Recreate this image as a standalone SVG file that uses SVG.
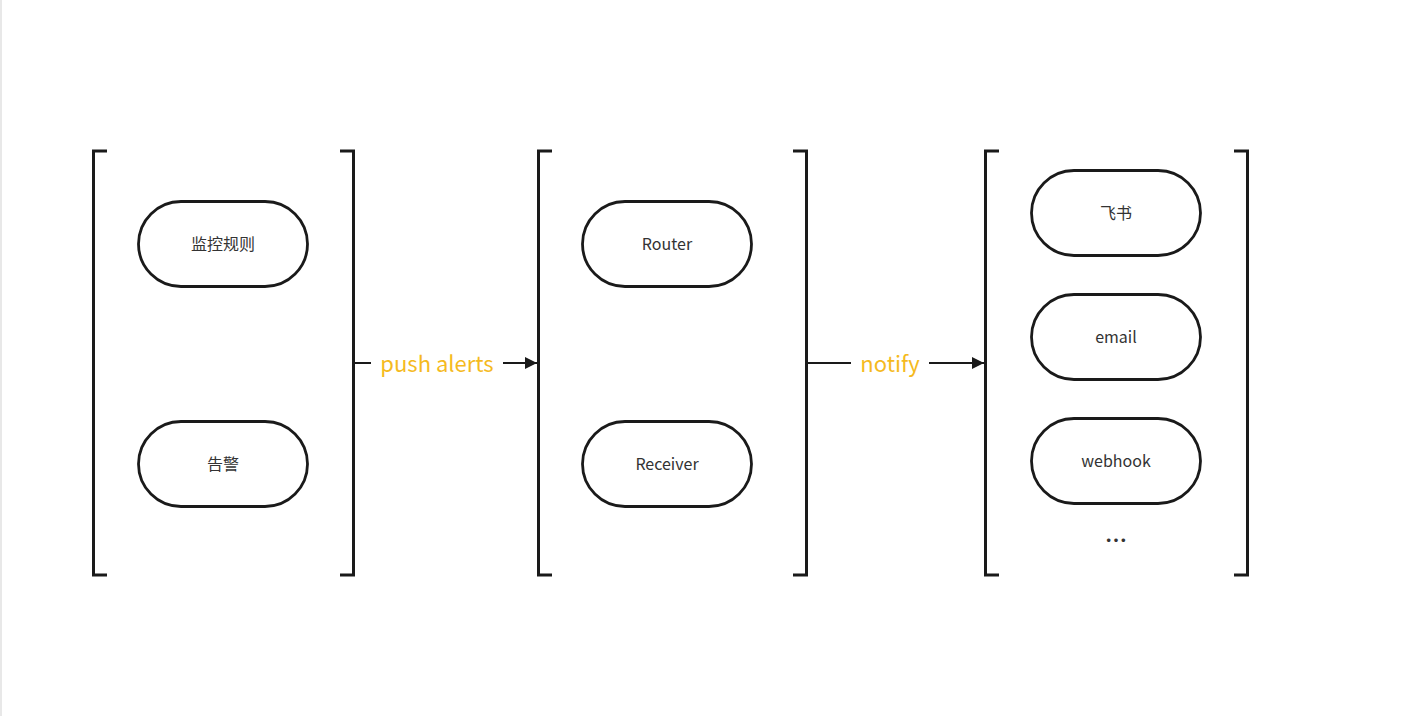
<svg xmlns="http://www.w3.org/2000/svg" width="1403" height="716" viewBox="0 0 1403 716">
<defs>
<style>
.br{fill:none;stroke:#1a1a1a;stroke-width:3;}
.pill{fill:#fff;stroke:#1a1a1a;stroke-width:2.8;}
.lbl{font-family:"Noto Sans CJK SC","Noto Sans",sans-serif;font-size:16px;fill:#333;text-anchor:middle;dominant-baseline:central;}
.dots{font-family:"Noto Sans CJK SC","Noto Sans",sans-serif;font-size:22px;font-weight:bold;fill:#333;text-anchor:middle;}
.cl{font-family:"Noto Sans CJK SC","Noto Sans",sans-serif;font-size:22px;fill:#F5BA1E;text-anchor:middle;dominant-baseline:central;}
.ln{stroke:#1a1a1a;stroke-width:2;fill:none;}
</style>
<marker id="ah" markerWidth="12" markerHeight="12" refX="12" refY="6" orient="auto" markerUnits="userSpaceOnUse">
<path d="M0,0 L12,6 L0,12 Z" fill="#1a1a1a"/>
</marker>
</defs>
<rect width="1403" height="716" fill="#fff"/>
<rect x="0" y="0" width="2" height="716" fill="#e8e8e8"/>
<g id="group1">
<path class="br" d="M107,151 H93.5 V575 H107"/>
<path class="br" d="M340,151 H353.5 V575 H340"/>
</g>
<g id="group2">
<path class="br" d="M552,151 H538.5 V575 H552"/>
<path class="br" d="M793,151 H806.5 V575 H793"/>
</g>
<g id="group3">
<path class="br" d="M999,151 H985.5 V575 H999"/>
<path class="br" d="M1234,151 H1247.5 V575 H1234"/>
</g>
<g id="n1"><rect class="pill" x="138.5" y="201.5" width="169" height="85" rx="42.5"/><text class="lbl" x="223" y="243">监控规则</text></g>
<g id="n2"><rect class="pill" x="138.5" y="421.5" width="169" height="85" rx="42.5"/><text class="lbl" x="223" y="463">告警</text></g>
<g id="n3"><rect class="pill" x="582.5" y="201.5" width="169" height="85" rx="42.5"/><text class="lbl" x="667" y="243">Router</text></g>
<g id="n4"><rect class="pill" x="582.5" y="421.5" width="169" height="85" rx="42.5"/><text class="lbl" x="667" y="463">Receiver</text></g>
<g id="n5"><rect class="pill" x="1031.5" y="170.5" width="169" height="85" rx="42.5"/><text class="lbl" x="1116" y="212">飞书</text></g>
<g id="n6"><rect class="pill" x="1031.5" y="294.5" width="169" height="85" rx="42.5"/><text class="lbl" x="1116" y="336">email</text></g>
<g id="n7"><rect class="pill" x="1031.5" y="418.5" width="169" height="85" rx="42.5"/><text class="lbl" x="1116" y="460">webhook</text></g>
<g id="n8"><text class="dots" x="1116" y="548">…</text></g>
<g id="connectors">
<line class="ln" x1="353" y1="363" x2="371" y2="363"/>
<line class="ln" x1="503" y1="363" x2="537" y2="363" marker-end="url(#ah)"/>
<text class="cl" x="437" y="362">push alerts</text>
<line class="ln" x1="806" y1="363" x2="851" y2="363"/>
<line class="ln" x1="929" y1="363" x2="984" y2="363" marker-end="url(#ah)"/>
<text class="cl" x="890" y="362">notify</text>
</g>
</svg>
